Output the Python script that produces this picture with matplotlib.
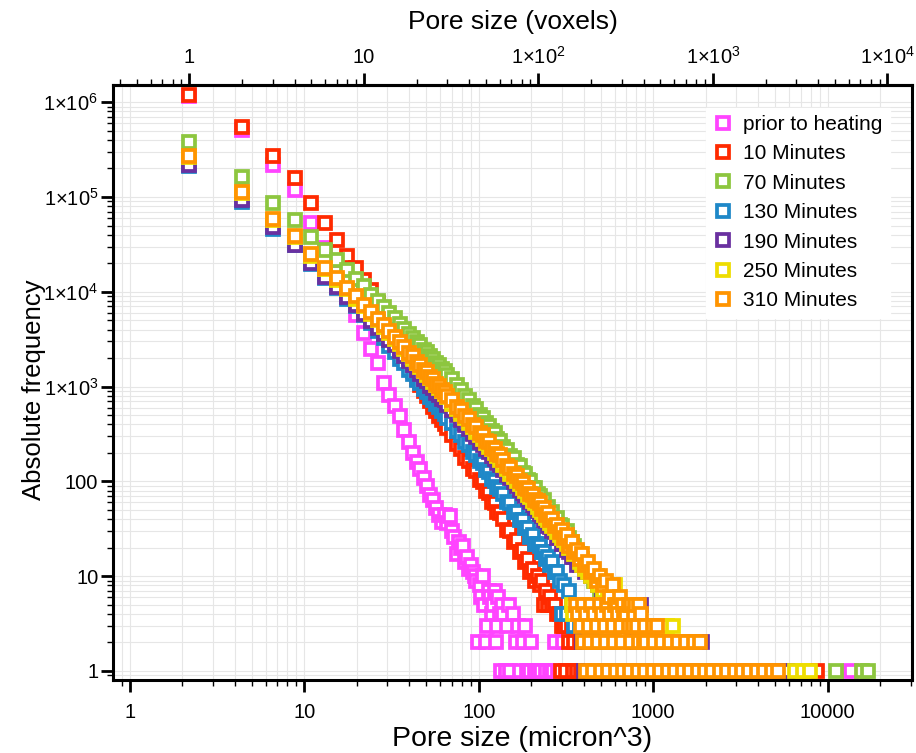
import numpy as np
import matplotlib
matplotlib.use('Agg')
import matplotlib.pyplot as plt
from matplotlib.ticker import FixedLocator, FixedFormatter, LogLocator, NullFormatter

plt.rcParams['font.family'] = ['Liberation Sans', 'DejaVu Sans']
plt.rcParams['mathtext.fontset'] = 'custom'
plt.rcParams['mathtext.rm'] = 'Liberation Sans'
plt.rcParams['mathtext.it'] = 'Liberation Sans:italic'
plt.rcParams['mathtext.bf'] = 'Liberation Sans:bold'

# ---------------- data ----------------
VOXEL_UM3 = 2.2   # micron^3 per voxel

series_labels = ['prior to heating', '10 Minutes', '70 Minutes', '130 Minutes',
                 '190 Minutes', '250 Minutes', '310 Minutes']
series_colors = ['#FF44FF', '#FF2A00', '#8DC63F', '#1E88C8', '#6A30A0', '#EEDD00', '#FF9400']

voxels_dense = list(range(1, 31))
voxels_mid = list(range(32, 61, 2))
voxels_mid2 = list(range(63, 100, 3))

# prior to heating
pink_dense = [1150000, 510000, 220000, 118000, 53000, 29000, 16000, 9000, 5700, 3700,
              2500, 1760, 1100, 820, 620, 490, 345, 260, 200, 160,
              135, 108, 90, 72, 63, 52, 44, 37, 44, 36]
pink_tail_n = [31, 32, 33, 34, 35, 36, 37, 38, 39, 40, 41, 42, 43, 44, 45, 46, 47, 48, 49, 50,
               51, 52, 53, 54, 55, 56, 57, 58, 59, 60, 61, 62, 63,
               65, 66, 68, 69, 71, 74, 76, 78, 82, 84, 86, 89, 91, 95, 99, 104, 110, 116,
               121, 125, 130, 139, 6150]
pink_tail_c = [43, 30, 26, 17, 23, 20, 21, 14, 16, 12, 13, 11, 10, 9, 2, 8, 6, 10, 5, 2,
               3, 7, 6, 4, 5, 7, 2, 3, 6, 4, 1, 5, 4,
               1, 3, 5, 1, 4, 2, 3, 1, 2, 3, 1, 1, 2, 1, 1, 1, 1, 1,
               1, 2, 1, 2, 1]

# 10 minutes
red_dense = [1200000, 550000, 270000, 160000, 86000, 53000, 35000, 24000, 17700, 13300,
             10400, 7600, 5800, 4500, 3500, 2750, 2200, 1780, 1450, 1200,
             1040, 900, 800, 700, 615, 555, 495, 445, 405, 365]
red_mid = [305, 248, 222, 178, 165, 134, 128, 104, 99, 80, 76, 61, 59, 47, 46]
red_mid2 = [40, 31, 30, 23, 24, 18, 19, 14, 15, 11, 12, 9, 10]
red_tail_n = [102, 105, 108, 111, 114, 117, 120, 124, 128, 132, 134, 136, 140, 143, 145,
              150, 155, 158, 160, 166, 172, 176, 3950]
red_tail_c = [8, 9, 5, 7, 5, 6, 5, 5, 4, 4, 1, 3, 3, 1, 3,
              2, 3, 1, 2, 1, 2, 1, 1]

# 70 minutes
green_dense = [382000, 163000, 87500, 57000, 38200, 27300, 21600, 17100, 13700, 11400,
               9350, 8050, 6880, 6020, 5230, 4570, 4080, 3580, 3270, 2930,
               2720, 2460, 2300, 2080, 1960, 1790, 1690, 1550, 1460, 1340]
green_mid = [1190, 1030, 930, 800, 730, 630, 585, 505, 470, 410, 388, 338, 322, 283, 270]
green_mid2 = [228, 216, 184, 176, 150, 144, 124, 120, 103, 100, 86, 85, 74]
green_tail_n = [102, 105, 108, 111, 114, 117, 120, 124, 128, 132, 136, 140, 145, 150, 155,
                160, 166, 172, 178, 185, 192, 200, 208, 216, 225, 235, 245, 256, 268, 280,
                295, 310, 330, 350, 375, 400, 450, 520, 610, 750, 900, 1100, 1400, 1800,
                2400, 5050, 7150, 7700]
green_tail_c = [70, 62, 63, 52, 54, 46, 47, 40, 41, 35, 34, 29, 30, 25, 23,
                21, 18, 17, 15, 13, 12, 11, 9, 10, 7, 6, 7, 5, 4, 5,
                3, 4, 3, 2, 3, 2, 2, 2, 1, 1, 1, 1, 1, 1,
                1, 1, 1, 1]

# 130 minutes
blue_dense = [210000, 89000, 46000, 31000, 19600, 14100, 10900, 8450, 7050, 5680,
              4720, 3820, 3230, 2680, 2320, 1970, 1760, 1510, 1370, 1180,
              1085, 945, 880, 780, 730, 650, 612, 548, 518, 462]
blue_mid = [412, 342, 311, 262, 242, 204, 192, 163, 155, 131, 126, 106, 101, 87, 84]
blue_mid2 = [74, 61, 59, 48, 47, 39, 39, 32, 32, 26, 27, 22, 22]
blue_tail_n = [102, 105, 108, 111, 114, 117, 120, 124, 128, 132, 136, 140, 145, 150, 155,
               160, 166, 172, 178, 185, 192, 200, 210, 220, 240, 265, 300, 350, 420, 520,
               690, 800, 1000]
blue_tail_c = [21, 18, 18, 15, 16, 13, 14, 11, 11, 9, 4, 8, 4, 7, 5,
               3, 5, 3, 4, 3, 2, 3, 2, 2, 1, 2, 1, 1, 1, 1,
               2, 1, 1]

# 190 minutes
purple_dense = [220000, 92000, 48000, 31500, 20300, 14500, 11250, 8850, 7250, 5880,
                4980, 4200, 3620, 3090, 2720, 2370, 2120, 1850, 1690, 1480,
                1370, 1215, 1140, 1010, 965, 860, 825, 740, 717, 645]
purple_mid = [570, 497, 448, 395, 357, 318, 295, 262, 240, 219, 203, 184, 172, 158, 148]
purple_mid2 = [132, 118, 108, 98, 90, 81, 76, 70, 65, 60, 56, 52, 49]
purple_tail_n = [102, 105, 108, 111, 114, 117, 120, 124, 128, 132, 136, 140, 145, 150, 155,
                 160, 166, 172, 178, 182, 185, 192, 200, 210, 220, 232, 245, 250, 260, 280,
                 300, 325, 330, 350, 370, 385, 410, 450, 520, 600, 700, 870, 1100, 1500,
                 2000, 2450, 2700]
purple_tail_c = [45, 43, 39, 38, 34, 33, 30, 29, 25, 25, 22, 22, 19, 18, 16,
                 16, 13, 13, 2, 1, 11, 2, 10, 9, 8, 7, 6, 1, 5, 5,
                 4, 3, 1, 2, 5, 5, 3, 2, 2, 1, 1, 2, 1, 1,
                 1, 1, 1]

# 250 minutes
yellow_dense = [262000, 109000, 57000, 37500, 24000, 17300, 13200, 10600, 8500, 7000,
                5850, 5000, 4250, 3700, 3200, 2820, 2490, 2210, 1970, 1780,
                1600, 1460, 1330, 1220, 1120, 1040, 955, 895, 830, 780]
yellow_mid = [655, 585, 512, 462, 410, 374, 336, 309, 278, 257, 233, 217, 198, 185, 170]
yellow_mid2 = [148, 136, 120, 112, 100, 94, 85, 80, 72, 68, 62, 59, 54]
yellow_tail_n = [102, 105, 108, 111, 114, 117, 120, 124, 128, 132, 136, 140, 145, 150, 155,
                 158, 160, 166, 172, 178, 185, 192, 200, 210, 220, 235, 250, 265, 275, 285,
                 300, 320, 340, 358, 380, 420, 505, 545, 575, 590, 640, 690, 1330, 2950,
                 3300, 3600]
yellow_tail_c = [50, 47, 44, 41, 39, 36, 34, 32, 29, 27, 25, 24, 22, 20, 5,
                 4, 17, 5, 14, 13, 12, 11, 10, 9, 8, 7, 6, 6, 8, 5,
                 4, 4, 5, 3, 3, 2, 3, 3, 2, 3, 2, 2, 1, 1,
                 1, 1]

# 310 minutes
orange_dense = [272000, 113000, 59200, 38800, 25100, 17900, 13900, 10950, 8950, 7250,
                6150, 5180, 4480, 3820, 3370, 2930, 2620, 2280, 2080, 1830,
                1690, 1500, 1410, 1250, 1190, 1060, 1020, 915, 885, 795]
orange_mid = [722, 612, 566, 486, 452, 392, 372, 322, 306, 268, 258, 226, 219, 193, 188]
orange_mid2 = [168, 145, 138, 120, 115, 100, 97, 85, 83, 73, 72, 63, 62]
orange_tail_n = [102, 105, 108, 111, 114, 117, 120, 124, 128, 132, 136, 140, 145, 150, 155,
                 160, 166, 172, 178, 185, 192, 200, 208, 216, 225, 235, 245, 256, 268, 280,
                 295, 310, 330, 350, 375, 400,
                 163, 181, 201, 224, 248, 276, 306, 340, 358,
                 169, 188, 209, 232, 258, 287, 318, 354, 385,
                 176, 195, 217, 240, 267, 297, 332, 367, 408, 453, 480,
                 180, 197, 220, 243, 271, 302, 339, 375, 415, 460, 512, 567, 630, 700, 775, 840,
                 186, 206, 228, 251, 278, 307, 335, 371, 410, 451, 497, 550, 605, 669, 738,
                 816, 898, 993, 1093, 1208, 1330, 1470, 1618, 1790, 1970, 2175, 2350]
orange_tail_c = [59, 51, 52, 44, 46, 39, 40, 34, 35, 29, 31, 25, 27, 21, 23,
                 18, 19, 15, 17, 13, 14, 11, 12, 9, 10, 8, 9, 6, 8, 5,
                 6, 4, 5, 3, 5, 2,
                 5, 5, 5, 5, 5, 5, 5, 5, 5,
                 4, 4, 4, 4, 4, 4, 4, 4, 4,
                 3, 3, 3, 3, 3, 3, 3, 3, 3, 3, 3,
                 2, 2, 2, 2, 2, 2, 2, 2, 2, 2, 2, 2, 2, 2, 2, 2,
                 1, 1, 1, 1, 1, 1, 1, 1, 1, 1, 1, 1, 1, 1, 1,
                 1, 1, 1, 1, 1, 1, 1, 1, 1, 1, 1, 1]

bottom_ticks = [1, 10, 100, 1000, 10000]
bottom_ticklabels = ['1', '10', '100', '1000', '10000']
top_ticks = [1, 10, 100, 1000, 10000]
top_ticklabels = ['1', '10', '1×10$^{2}$', '1×10$^{3}$', '1×10$^{4}$']
y_ticks = [1, 10, 100, 1000, 10000, 100000, 1000000]
y_ticklabels = ['1', '10', '100', '1×10$^{3}$', '1×10$^{4}$', '1×10$^{5}$', '1×10$^{6}$']


def assemble(dense, mid=(), mid2=(), tail_n=(), tail_c=()):
    n = voxels_dense[:len(dense)] + voxels_mid[:len(mid)] + voxels_mid2[:len(mid2)] + list(tail_n)
    c = list(dense) + list(mid) + list(mid2) + list(tail_c)
    n = np.array(n, dtype=float)
    c = np.array(c, dtype=float)
    order = np.argsort(n, kind='stable')
    return n[order], c[order]


series_data = [
    assemble(pink_dense, tail_n=pink_tail_n, tail_c=pink_tail_c),
    assemble(red_dense, red_mid, red_mid2, red_tail_n, red_tail_c),
    assemble(green_dense, green_mid, green_mid2, green_tail_n, green_tail_c),
    assemble(blue_dense, blue_mid, blue_mid2, blue_tail_n, blue_tail_c),
    assemble(purple_dense, purple_mid, purple_mid2, purple_tail_n, purple_tail_c),
    assemble(yellow_dense, yellow_mid, yellow_mid2, yellow_tail_n, yellow_tail_c),
    assemble(orange_dense, orange_mid, orange_mid2, orange_tail_n, orange_tail_c),
]

# ---------------- figure ----------------
W, H = 916, 753
fig = plt.figure(figsize=(W / 100, H / 100), dpi=100)
ax = fig.add_axes([113 / W, 1 - 680 / H, (912 - 113) / W, (680 - 85) / H])

MS, MEW = 8.5, 2.7
for label, color, (n, c) in zip(series_labels, series_colors, series_data):
    ax.plot(n * VOXEL_UM3, c, ls='none', marker='s', ms=MS, mew=MEW,
            mec=color, mfc='white', label=label)

ax.set_xscale('log')
ax.set_yscale('log')
ax.set_xlim(0.802, 30400)
ax.set_ylim(0.803, 1.52e6)

ax.grid(True, which='both', color='#e6e6e6', lw=0.8)
ax.set_axisbelow(True)

for s in ax.spines.values():
    s.set_linewidth(2.2)
    s.set_color('black')

ax.xaxis.set_major_locator(FixedLocator(bottom_ticks))
ax.xaxis.set_major_formatter(FixedFormatter(bottom_ticklabels))
ax.xaxis.set_minor_locator(LogLocator(base=10, subs=np.arange(2, 10), numticks=20))
ax.xaxis.set_minor_formatter(NullFormatter())
ax.yaxis.set_major_locator(FixedLocator(y_ticks))
ax.yaxis.set_major_formatter(FixedFormatter(y_ticklabels))
ax.yaxis.set_minor_locator(LogLocator(base=10, subs=np.arange(2, 10), numticks=20))
ax.yaxis.set_minor_formatter(NullFormatter())

ax.tick_params(which='major', direction='out', length=8.6, width=2.0, labelsize=14.5)
ax.tick_params(axis='x', which='major', pad=8)
ax.tick_params(axis='y', which='major', pad=2)
ax.tick_params(which='minor', direction='out', length=4.6, width=1.0)
ax.tick_params(top=False, right=False, which='both')

secax = ax.secondary_xaxis('top', functions=(lambda x: x / VOXEL_UM3, lambda v: v * VOXEL_UM3))
secax.xaxis.set_major_locator(FixedLocator(top_ticks))
secax.xaxis.set_major_formatter(FixedFormatter(top_ticklabels))
secax.xaxis.set_minor_locator(LogLocator(base=10, subs=np.arange(2, 10), numticks=20))
secax.xaxis.set_minor_formatter(NullFormatter())
secax.tick_params(which='major', direction='out', length=8.6, width=2.0, labelsize=14.5, pad=4)
secax.tick_params(which='minor', direction='out', length=4.6, width=1.0)
secax.spines['top'].set_linewidth(2.2)
secax.set_xlabel('Pore size (voxels)', fontsize=19, labelpad=12)

ax.set_xlabel('Pore size (micron^3)', fontsize=20.5, labelpad=3)
ax.xaxis.label.set_x(0.512)
ax.set_ylabel('Absolute frequency', fontsize=18.5)
ax.yaxis.set_label_coords(-0.0835, 0.488)

leg = ax.legend(loc='upper left', bbox_to_anchor=(0.742, 0.962), borderaxespad=0,
                fontsize=15, frameon=True, fancybox=False, framealpha=1,
                edgecolor='white', facecolor='white', handlelength=0.9,
                handletextpad=0.55, labelspacing=0.5, borderpad=0.35, numpoints=1)

fig.savefig('out.png', dpi=100)
